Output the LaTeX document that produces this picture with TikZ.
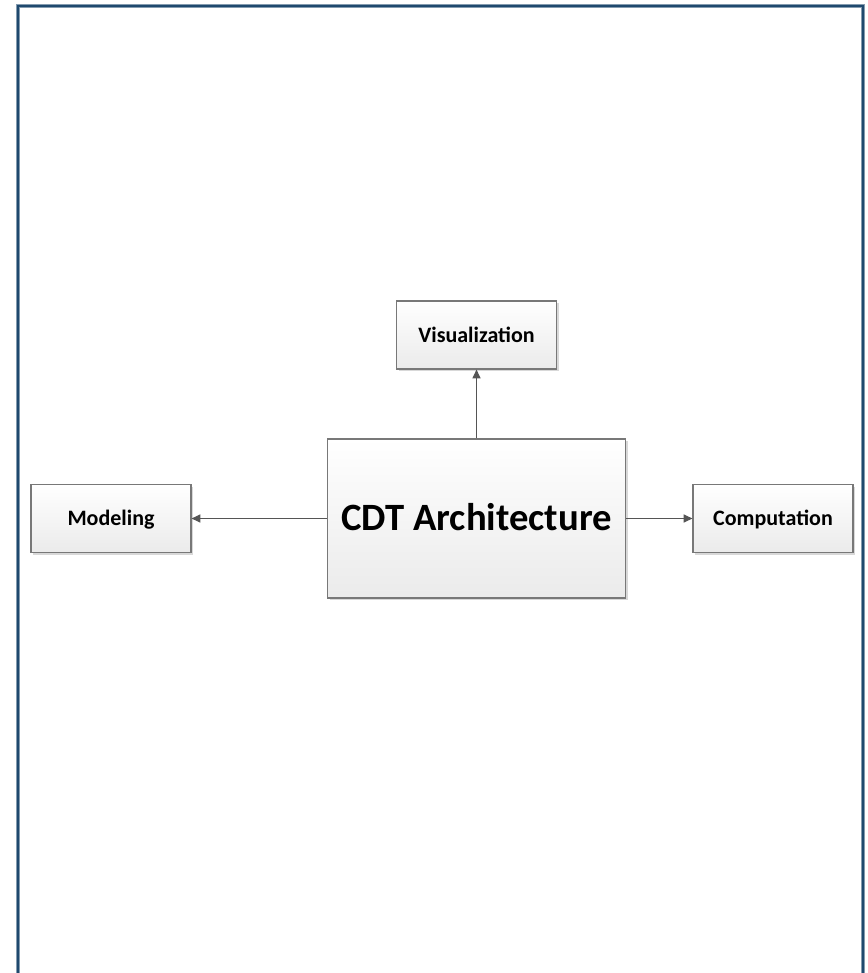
\documentclass[tikz,border=0pt]{standalone}
\usepackage{fontspec}
\setmainfont{Carlito}
\usetikzlibrary{arrows.meta,shadows}
\definecolor{frameblue}{RGB}{31,73,110}
\definecolor{boxline}{RGB}{120,120,120}
\definecolor{linkgray}{RGB}{85,85,85}
\tikzset{
  block/.style={draw=boxline, line width=0.9pt, top color=white, bottom color=black!8,
    drop shadow={shadow xshift=1.5pt, shadow yshift=-1.5pt, opacity=0.25, fill=black!60},
    inner sep=0pt, text depth=0pt},
  small/.style={block, minimum width=120pt, minimum height=51pt, text height=10.6pt,
    font=\fontsize{16.5}{19}\bfseries\selectfont},
  big/.style={block, minimum width=223.5pt, minimum height=119.25pt, text height=18.6pt,
    font=\fontsize{29}{33}\bfseries\selectfont},
  link/.style={draw=linkgray, line width=0.75pt, -{Triangle[length=6.5pt,width=6pt]}}
}
\begin{document}
\begin{tikzpicture}[x=0.75pt,y=-0.75pt]
  \useasboundingbox (0,0) rectangle (867,973);
  \fill[white] (0,0) rectangle (867,973);
  % page frame, open at the bottom
  \begin{scope}
    \clip (0,0) rectangle (867,973);
    \draw[frameblue!55, line width=3pt] (18,990) -- (18,6) -- (863,6) -- (863,990);
    \draw[frameblue, line width=1.6pt] (18,990) -- (18,6) -- (863,6) -- (863,990);
  \end{scope}
  \node[big]   (cdt)  at (476.5,518.5) {CDT Architecture};
  \node[small] (vis)  at (476.5,335)   {Visualization};
  \node[small] (mod)  at (111,518.5)   {Modeling};
  \node[small] (comp) at (773,518.5)   {Computation};
  \draw[link] (cdt.north) -- (vis.south);
  \draw[link] (cdt.west) -- (mod.east);
  \draw[link] (cdt.east) -- (comp.west);
\end{tikzpicture}
\end{document}
